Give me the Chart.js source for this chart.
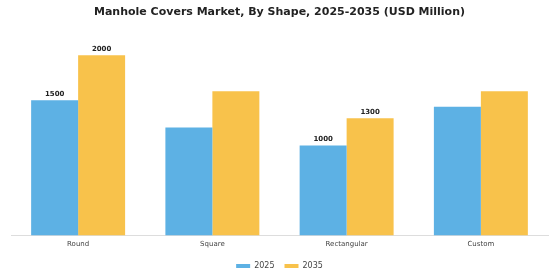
<!DOCTYPE html>
<html>
<head>
<meta charset="utf-8">
<script src="https://cdn.jsdelivr.net/npm/chart.js@4"></script>
<style>
html,body{margin:0;padding:0;background:#fff;}
#wrap{width:560px;height:280px;}
</style>
</head>
<body>
<div id="wrap"><canvas id="c" width="560" height="280"></canvas></div>
<script>
const categories = ["Round", "Square", "Rectangular", "Custom"];
const seriesNames = ["2025", "2035"];
const values2025 = [1500, 1200, 1000, 1430];
const values2035 = [2000, 1600, 1300, 1600];
const showLabel = [true, false, true, false];

const valueLabels = {
  id: 'valueLabels',
  afterDatasetsDraw(chart) {
    const ctx = chart.ctx;
    ctx.save();
    ctx.font = 'bold 7px "DejaVu Sans", sans-serif';
    ctx.fillStyle = '#222';
    ctx.textAlign = 'center';
    ctx.textBaseline = 'bottom';
    chart.data.datasets.forEach((ds, di) => {
      const meta = chart.getDatasetMeta(di);
      meta.data.forEach((bar, i) => {
        if (!showLabel[i]) return;
        ctx.fillText(String(ds.data[i]), bar.x, bar.y - 3);
      });
    });
    ctx.restore();
  }
};

new Chart(document.getElementById('c'), {
  type: 'bar',
  data: {
    labels: categories,
    datasets: [
      { label: seriesNames[0], data: values2025, backgroundColor: '#5DB1E4', categoryPercentage: 0.7, barPercentage: 1.0 },
      { label: seriesNames[1], data: values2035, backgroundColor: '#F8C24B', categoryPercentage: 0.7, barPercentage: 1.0 }
    ]
  },
  options: {
    responsive: false,
    animation: false,
    layout: { padding: { left: 11, right: 12, top: 6, bottom: 0 } },
    plugins: {
      title: {
        display: true,
        text: 'Manhole Covers Market, By Shape, 2025-2035 (USD Million)',
        font: { family: '"DejaVu Sans", sans-serif', size: 11, weight: 'bold' },
        color: '#222',
        padding: { top: 0, bottom: 18 }
      },
      legend: {
        position: 'bottom',
        labels: {
          boxWidth: 14, boxHeight: 4,
          font: { family: '"DejaVu Sans", sans-serif', size: 8 },
          color: '#444',
          padding: 10
        }
      },
      tooltip: { enabled: false }
    },
    scales: {
      x: {
        grid: { display: false, drawTicks: false, tickLength: 0 },
        border: { display: true, color: '#ddd' },
        ticks: { font: { family: '"DejaVu Sans", sans-serif', size: 7 }, color: '#444', padding: 4 }
      },
      y: {
        display: false,
        min: 0, max: 2200
      }
    }
  },
  plugins: [valueLabels]
});
</script>
</body>
</html>
